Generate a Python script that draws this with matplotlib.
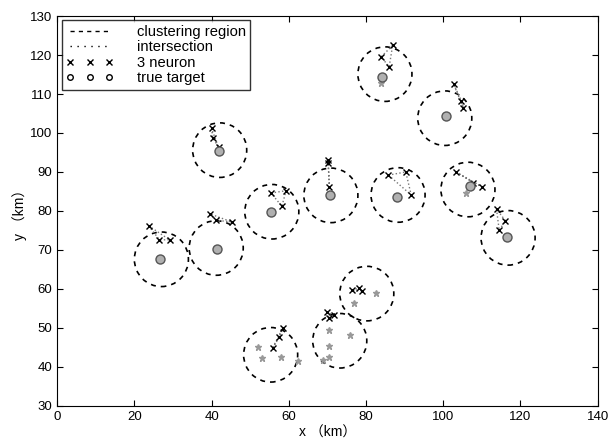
import matplotlib
matplotlib.use("Agg")
from matplotlib import pyplot as plt
from matplotlib.patches import Circle
from matplotlib.lines import Line2D

plt.rcParams['font.family'] = ['Liberation Sans', 'Noto Sans CJK SC']

# clustering regions (centre x, centre y), radius in km
region_x = [27.0, 41.2, 42.1, 55.6, 70.9, 88.3, 84.9, 100.4, 106.4, 116.8, 80.2, 73.2, 55.3]
region_y = [67.6, 70.5, 95.6, 79.8, 84.0, 84.1, 115.1, 103.8, 85.5, 73.1, 58.8, 46.7, 43.1]
region_r = 7.0

# true targets
target_x = [26.7, 41.5, 42.0, 55.3, 70.8, 88.0, 84.1, 100.6, 106.9, 116.6]
target_y = [67.6, 70.2, 95.5, 79.8, 84.0, 83.7, 114.4, 104.3, 86.4, 73.3]

# 3 neurons per region
neuron_x = [
    [23.7, 26.5, 29.1],
    [39.7, 41.2, 45.2],
    [40.0, 40.3, 41.8],
    [55.4, 59.3, 58.2],
    [70.2, 70.2, 70.5],
    [85.8, 90.3, 91.7],
    [86.9, 83.9, 86.0],
    [102.7, 104.7, 105.2],
    [103.3, 107.7, 110.1],
    [113.8, 114.5, 116.1],
    [76.4, 78.1, 78.9],
    [69.9, 70.4, 71.6],
    [55.8, 57.5, 58.5],
]
neuron_y = [
    [76.2, 72.6, 72.6],
    [79.2, 77.6, 77.2],
    [101.2, 98.8, 96.3],
    [84.6, 85.2, 81.2],
    [93.0, 92.2, 86.2],
    [89.2, 90.0, 84.1],
    [122.5, 119.5, 117.0],
    [112.5, 108.3, 106.5],
    [90.0, 87.3, 86.2],
    [80.5, 75.0, 77.5],
    [59.6, 60.2, 59.5],
    [54.0, 52.5, 53.3],
    [44.8, 47.6, 50.1],
]

# other measurements (grey stars)
meas_x = [82.6, 76.8, 70.4, 75.9, 70.4, 70.4, 68.8, 51.9, 53.0, 57.9, 62.5, 106.0, 83.9]
meas_y = [58.9, 56.5, 49.5, 48.2, 45.4, 42.5, 41.8, 45.2, 42.4, 42.6, 41.5, 84.7, 112.7]

fig = plt.figure(figsize=(6.08, 4.46), dpi=100)
ax = fig.add_axes([0.094, 0.09, 0.889, 0.874])

for cx, cy in zip(region_x, region_y):
    ax.add_patch(Circle((cx, cy), region_r, fill=False, edgecolor='black',
                        linestyle=(0, (3, 3)), linewidth=1.2))

for xs, ys in zip(neuron_x, neuron_y):
    ax.plot(xs + xs[:1], ys + ys[:1], linestyle=':', color='#777777', linewidth=1.0)
    ax.plot(xs, ys, linestyle='none', marker='x', color='black', markersize=5, markeredgewidth=1.0)

ax.plot(meas_x, meas_y, linestyle='none', marker='*', color='#999999', markersize=5)
ax.plot(target_x, target_y, linestyle='none', marker='o', markersize=6.5,
        markerfacecolor='#b0b0b0', markeredgecolor='#555555', markeredgewidth=1.0)

ax.set_xlim(0, 140)
ax.set_ylim(30, 130)
ax.set_xticks(range(0, 141, 20))
ax.set_yticks(range(30, 131, 10))
ax.tick_params(direction='in', top=True, right=True, labelsize=9.5, length=4)
ax.set_xlabel("x （km）", fontsize=10, labelpad=2)
ax.set_ylabel("y （km）", fontsize=10, labelpad=2)

handles = [
    Line2D([], [], color='black', linestyle=(0, (3, 3)), linewidth=1.0),
    Line2D([], [], color='black', linestyle=(0, (1, 4)), linewidth=1.0),
    Line2D([], [], color='black', linestyle='none', marker='x', markersize=5),
    Line2D([], [], color='black', linestyle='none', marker='o', markersize=4, markerfacecolor='none'),
]
labels = ['clustering region', 'intersection', '3 neuron', 'true target']
leg = ax.legend(handles, labels, loc='upper left', numpoints=3, fancybox=False,
                edgecolor='black', fontsize=10.6, borderaxespad=0.3, handlelength=3.2,
                labelspacing=0.1, borderpad=0.3, handletextpad=1.6)
leg.get_frame().set_linewidth(1.0)

plt.savefig("out.png", dpi=100)
